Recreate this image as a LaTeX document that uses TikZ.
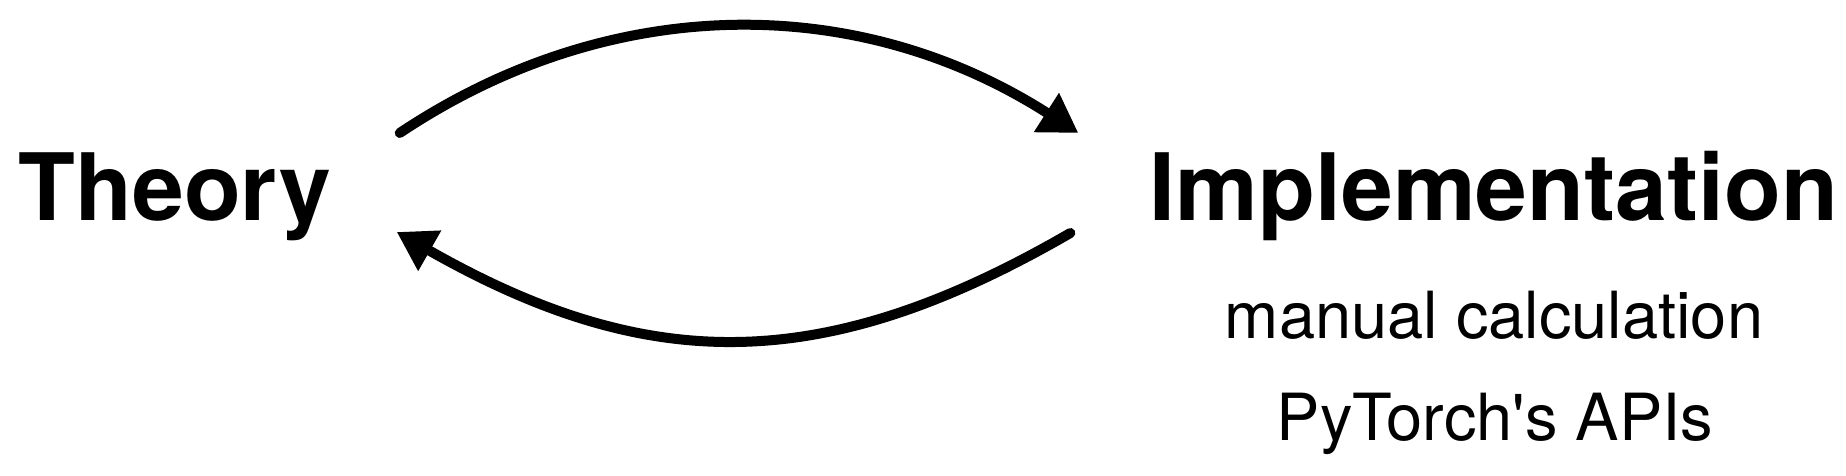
\documentclass[tikz,border=0pt]{standalone}
\usepackage{fontspec}
\newfontfamily\heros{TeX Gyre Heros}
\usetikzlibrary{arrows.meta}
\usetikzlibrary{calc}

\begin{document}
\begin{tikzpicture}[x=1pt, y=1pt,
    big/.style={anchor=base, font=\heros\fontsize{93}{93}\selectfont\bfseries},
    small/.style={anchor=base, font=\heros\fontsize{65}{65}\selectfont},
    loop arrow/.style={line width=10pt, line cap=round,
      -{Triangle[length=38pt,width=44pt]}}]
    % Fix the size of the picture
    \useasboundingbox (0, 0) rectangle (1846, 476);

    % Place the labels
    \node[big] (theory) at (175, 255) {Theory};
    \node[big] (impl) at (1494, 255) {Implementation};
    \node[small] (manual) at (1494, 137) {manual calculation};
    \node[small] (apis) at (1495, 35) {PyTorch's APIs};

    % Ends of the two arrows
    \coordinate (T1) at ($(theory.base east)+(65, 88)$); % leaves Theory
    \coordinate (I1) at ($(impl.base west)+(-68, 88)$); % reaches Implementation
    \coordinate (I2) at ($(impl.base west)+(-76, -12)$); % leaves Implementation
    \coordinate (T2) at ($(theory.base east)+(62, -11)$); % reaches Theory

    % Draw the loop
    \draw[loop arrow] (T1) .. controls ($(T1)+(211, 141)$) and ($(I1)+(-220, 141)$) .. (I1);
    \draw[loop arrow] (I2) .. controls ($(I2)+(-247, -143)$) and ($(T2)+(251, -143)$) .. (T2);
  \end{tikzpicture}
\end{document}
